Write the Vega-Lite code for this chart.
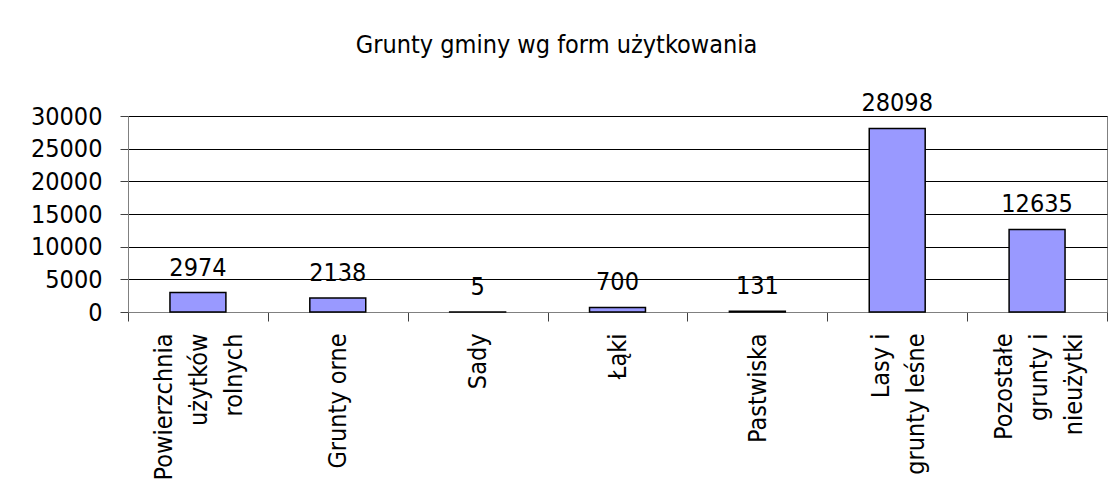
{
  "$schema": "https://vega.github.io/schema/vega-lite/v6.json",
  "autosize": {"type": "none"},
  "padding": {"left": 128, "top": 116, "right": 8, "bottom": 190},
  "width": 979,
  "height": 196,
  "background": "white",
  "title": {
    "text": "Grunty gminy wg form użytkowania",
    "frame": "group",
    "anchor": "middle",
    "orient": "top",
    "baseline": "alphabetic",
    "offset": 13,
    "dx": -61,
    "font": "DejaVu Sans Condensed, Liberation Sans",
    "fontSize": 25,
    "fontWeight": "normal",
    "color": "black"
  },
  "data": {
    "values": [
      {"kategoria": "Powierzchnia\nużytków\nrolnych", "wartosc": 2974},
      {"kategoria": "Grunty orne", "wartosc": 2138},
      {"kategoria": "Sady", "wartosc": 5},
      {"kategoria": "Łąki", "wartosc": 700},
      {"kategoria": "Pastwiska", "wartosc": 131},
      {"kategoria": "Lasy i\ngrunty leśne", "wartosc": 28098},
      {"kategoria": "Pozostałe\ngrunty i\nnieużytki", "wartosc": 12635}
    ]
  },
  "encoding": {
    "x": {
      "field": "kategoria",
      "type": "nominal",
      "sort": null,
      "scale": {"paddingInner": 0, "paddingOuter": 0},
      "axis": {
        "title": null,
        "tickBand": "extent",
        "labelAngle": 270,
        "labelAlign": "right",
        "labelBaseline": "middle",
        "labelExpr": "split(datum.label, '\\n')",
        "labelLineHeight": 35,
        "labelOffset": {
          "condition": [
            {"test": "length(split(datum.value, '\\n')) == 3", "value": -34},
            {"test": "length(split(datum.value, '\\n')) == 2", "value": -17}
          ],
          "value": 0
        },
        "labelPadding": 12,
        "tickSize": 9,
        "tickColor": "#404040",
        "domainColor": "#808080",
        "labelFont": "DejaVu Sans Condensed, Liberation Sans",
        "labelFontSize": 25,
        "labelColor": "black",
        "labelLimit": 0,
        "grid": false
      }
    },
    "y": {
      "field": "wartosc",
      "type": "quantitative",
      "scale": {"domain": [0, 30000], "nice": false},
      "axis": {
        "title": null,
        "values": [0, 5000, 10000, 15000, 20000, 25000, 30000],
        "format": "d",
        "grid": true,
        "gridColor": "black",
        "gridOpacity": 1,
        "gridWidth": 1,
        "tickSize": 8,
        "tickColor": "#404040",
        "domainColor": "#808080",
        "labelPadding": 18,
        "labelFont": "DejaVu Sans Condensed, Liberation Sans",
        "labelFontSize": 25,
        "labelColor": "black"
      }
    }
  },
  "layer": [
    {
      "mark": {"type": "bar", "width": {"band": 0.4}, "color": "#9999FF", "stroke": "black", "strokeWidth": 1.5}
    },
    {
      "mark": {"type": "text", "baseline": "alphabetic", "dy": -17, "font": "DejaVu Sans Condensed, Liberation Sans", "fontSize": 25, "color": "black"},
      "encoding": {"text": {"field": "wartosc", "type": "quantitative", "format": "d"}}
    }
  ],
  "config": {
    "view": {"stroke": "#808080", "strokeWidth": 1}
  }
}
